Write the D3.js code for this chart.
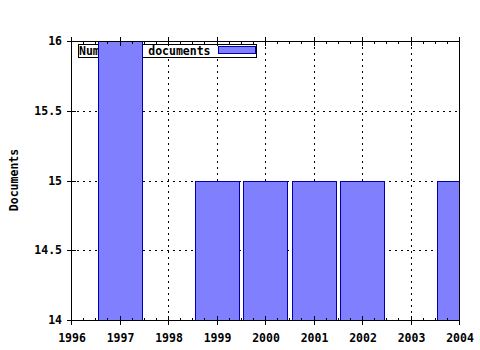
<!DOCTYPE html>
<html>
<head>
<meta charset="utf-8">
<script src="https://cdn.jsdelivr.net/npm/d3@7"></script>
<style>
  body { margin: 0; background: #fff; }
  text { font-family: "DejaVu Sans Mono", monospace; font-weight: bold; font-size: 11.5px; fill: #000; }
</style>
</head>
<body>
<div id="chart"></div>
<script>
const years = [1997, 1999, 2000, 2001, 2002, 2004];
const docs = [16, 15, 15, 15, 15, 15];
const xTicks = [1996, 1997, 1998, 1999, 2000, 2001, 2002, 2003, 2004];
const yTicks = [14, 14.5, 15, 15.5, 16];
const seriesName = "Number of documents";

const width = 480, height = 350;
const plotLeft = 71, plotRight = 459, plotTop = 41, plotBottom = 320;

let svg = d3.select("#chart").append("svg")
    .attr("width", width)
    .attr("height", height);

let x = d3.scaleLinear().domain([1996, 2004]).range([plotLeft, plotRight]);
let y = d3.scaleLinear().domain([14, 16]).range([plotBottom, plotTop]);

svg.append("clipPath").attr("id", "plot")
    .append("rect")
    .attr("x", plotLeft).attr("y", plotTop)
    .attr("width", plotRight - plotLeft + 1).attr("height", plotBottom - plotTop);

// grid
let grid = svg.append("g")
    .attr("stroke", "#000")
    .attr("stroke-dasharray", "2,4")
    .attr("shape-rendering", "crispEdges");
grid.selectAll("line.v")
    .data(xTicks.slice(1, -1))
    .join("line")
    .attr("class", "v")
    .attr("x1", d => Math.round(x(d)) + 0.5).attr("x2", d => Math.round(x(d)) + 0.5)
    .attr("y1", plotTop).attr("y2", plotBottom);
grid.selectAll("line.h")
    .data(yTicks.slice(1, -1))
    .join("line")
    .attr("class", "h")
    .attr("x1", plotLeft).attr("x2", plotRight)
    .attr("y1", d => Math.round(y(d)) + 0.5).attr("y2", d => Math.round(y(d)) + 0.5);

// legend (drawn under the bars, like the original)
let legend = svg.append("g");
legend.append("rect")
    .attr("x", 78.5).attr("y", 44.5)
    .attr("width", 178).attr("height", 13)
    .attr("fill", "#fff").attr("stroke", "#000");
legend.append("text")
    .attr("x", 79).attr("y", 55)
    .text(seriesName);
legend.append("rect")
    .attr("x", 218.5).attr("y", 46.5)
    .attr("width", 37).attr("height", 7)
    .attr("fill", "#8080ff").attr("stroke", "#0000aa");

// bars
let bw = (x(1997) - x(1996)) * 0.9;
svg.append("g")
    .attr("clip-path", "url(#plot)")
    .selectAll("rect")
    .data(years)
    .join("rect")
    .attr("x", (d) => Math.round(x(d) - bw / 2) + 0.5)
    .attr("y", (d, i) => Math.round(y(docs[i])) + 0.5)
    .attr("width", Math.round(bw))
    .attr("height", (d, i) => y(14) - Math.round(y(docs[i])) + 2)
    .attr("fill", "#8080ff")
    .attr("stroke", "#0000aa");

// frame
let frame = svg.append("g").attr("stroke", "#000").attr("shape-rendering", "crispEdges");
frame.append("line").attr("x1", plotLeft + 0.5).attr("x2", plotLeft + 0.5).attr("y1", plotTop).attr("y2", plotBottom + 1);
frame.append("line").attr("x1", plotRight + 0.5).attr("x2", plotRight + 0.5).attr("y1", plotTop).attr("y2", plotBottom + 1);
frame.append("line").attr("x1", plotLeft).attr("x2", plotRight + 1).attr("y1", plotTop + 0.5).attr("y2", plotTop + 0.5);
frame.append("line").attr("x1", plotLeft).attr("x2", plotRight + 1).attr("y1", plotBottom + 0.5).attr("y2", plotBottom + 0.5);

// x ticks (major crossing, minor inward) on bottom and top
let minor = d3.range(1996, 2004.001, 0.25).filter(v => Math.abs(v - Math.round(v)) > 0.01);
xTicks.forEach(v => {
    let px = Math.round(x(v)) + 0.5;
    frame.append("line").attr("x1", px).attr("x2", px).attr("y1", plotBottom - 4).attr("y2", plotBottom + 5);
    frame.append("line").attr("x1", px).attr("x2", px).attr("y1", plotTop - 4).attr("y2", plotTop + 5);
});
minor.forEach(v => {
    let px = Math.round(x(v)) + 0.5;
    frame.append("line").attr("x1", px).attr("x2", px).attr("y1", plotBottom - 2).attr("y2", plotBottom);
    frame.append("line").attr("x1", px).attr("x2", px).attr("y1", plotTop + 1).attr("y2", plotTop + 3);
});
yTicks.forEach(v => {
    let py = Math.round(y(v)) + 0.5;
    frame.append("line").attr("x1", plotLeft - 4).attr("x2", plotLeft + 5).attr("y1", py).attr("y2", py);
});

// tick labels
svg.append("g").selectAll("text")
    .data(xTicks)
    .join("text")
    .attr("x", d => x(d) + 1)
    .attr("y", 342)
    .attr("text-anchor", "middle")
    .text(d => d);
svg.append("g").selectAll("text")
    .data(yTicks)
    .join("text")
    .attr("x", 62)
    .attr("y", d => y(d) + 4)
    .attr("text-anchor", "end")
    .text(d => d);

svg.append("text")
    .attr("transform", "translate(18,180) rotate(-90)")
    .attr("text-anchor", "middle")
    .text("Documents");
</script>
</body>
</html>
